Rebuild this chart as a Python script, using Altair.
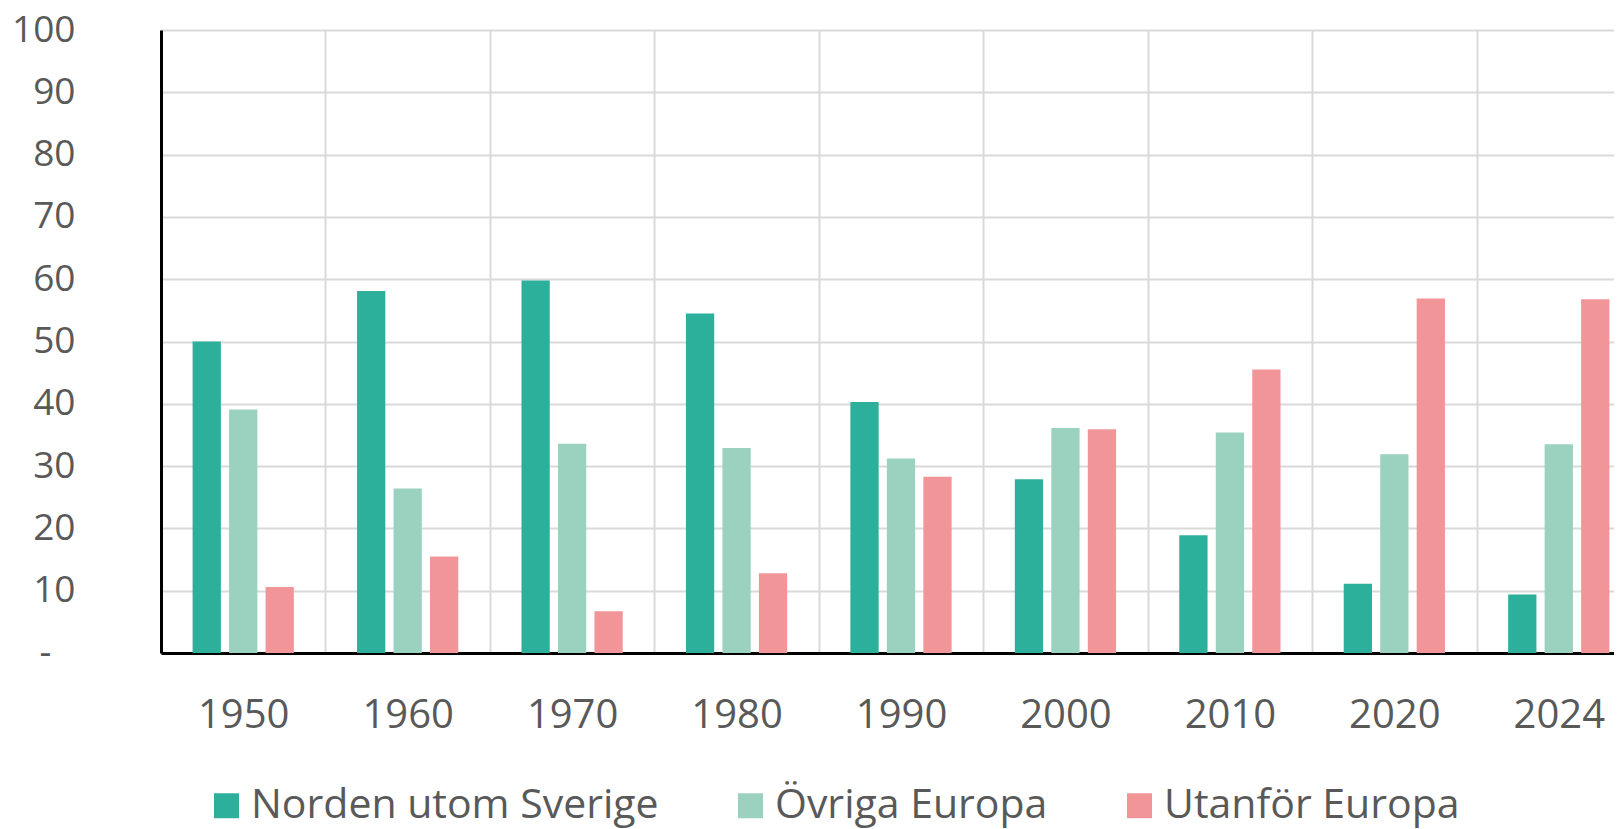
import altair as alt
import pandas as pd

years = ["1950", "1960", "1970", "1980", "1990", "2000", "2010", "2020", "2024"]
categories = ["Norden utom Sverige", "Övriga Europa", "Utanför Europa"]
norden = [50.0, 58.1, 59.8, 54.5, 40.3, 27.9, 18.9, 11.1, 9.4]
ovriga = [39.1, 26.4, 33.6, 32.9, 31.2, 36.1, 35.4, 31.9, 33.5]
utanfor = [10.6, 15.5, 6.7, 12.8, 28.3, 35.9, 45.5, 56.9, 56.8]
colors = ["#2CB09B", "#9AD2BF", "#F19599"]
y_ticks = list(range(0, 101, 10))

rows = []
for series, vals in zip(categories, [norden, ovriga, utanfor]):
    for yr, v in zip(years, vals):
        rows.append({"År": yr, "Region": series, "Andel": v})
df = pd.DataFrame(rows)

FONT = "Open Sans"
GREY = "#595959"
GRID = "#D9D9D9"

chart = alt.Chart(df).mark_bar().encode(
    x=alt.X(
        "År:N",
        sort=years,
        scale=alt.Scale(range=[0, 1480], paddingInner=0, paddingOuter=0),
        axis=alt.Axis(
            title=None, tickBand="extent", ticks=False, tickSize=0,
            labelPadding=62, labelBaseline="middle", labelAngle=0,
            labelFontSize=40, labelFont=FONT, labelColor=GREY,
            domainColor="black", domainWidth=3,
            grid=True, gridColor=GRID, gridWidth=2,
        ),
    ),
    xOffset=alt.XOffset(
        "Region:N", sort=categories,
        scale=alt.Scale(paddingInner=0.225, paddingOuter=0.866),
    ),
    y=alt.Y(
        "Andel:Q",
        scale=alt.Scale(domain=[0, 100], nice=False),
        axis=alt.Axis(
            title=None, values=y_ticks, ticks=False, tickSize=0,
            labelPadding={"condition": {"test": "datum.value === 0", "value": 110}, "value": 86},
            labelFontSize=37, labelFont=FONT, labelColor=GREY,
            labelExpr="datum.value == 0 ? '-' : datum.label",
            domainColor="black", domainWidth=3,
            grid=True, gridColor=GRID, gridWidth=2,
        ),
    ),
    color=alt.Color(
        "Region:N", sort=categories,
        scale=alt.Scale(domain=categories, range=colors),
        legend=alt.Legend(
            title=None, orient="none", legendX=45, legendY=755,
            direction="horizontal", columnPadding=71,
            symbolType="square", symbolSize=625, symbolStrokeWidth=0,
            labelFontSize=41, labelFont=FONT, labelColor=GREY,
            labelOffset=4, padding=0, labelLimit=0,
        ),
    ),
).properties(
    width=1453,
    height=623,
    autosize=alt.AutoSizeParams(type="none"),
    padding={"left": 153, "top": 22, "right": 0, "bottom": 176},
    background="white",
).configure_view(strokeWidth=0)

chart.save("out.html", embed_options={"renderer": "svg", "actions": False})
